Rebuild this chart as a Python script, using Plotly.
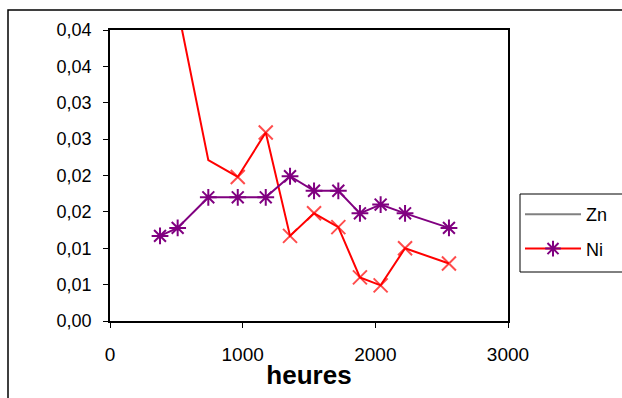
import plotly.graph_objects as go

# ---- data ----
purple_hours = [377, 510, 741, 963, 1174, 1357, 1538, 1721, 1884, 2040, 2224, 2555]
purple_y = [0.0117, 0.0128, 0.0170, 0.0170, 0.0170, 0.0199, 0.0179, 0.0179, 0.0148, 0.0160, 0.0148, 0.0128]
red_hours = [510, 741, 963, 1174, 1357, 1538, 1721, 1884, 2040, 2224, 2555]
red_y = [0.0430, 0.0221, 0.0198, 0.0259, 0.0117, 0.0148, 0.0129, 0.0060, 0.0049, 0.0100, 0.0079]
y_tickvals = [0, 0.005, 0.01, 0.015, 0.02, 0.025, 0.03, 0.035, 0.04]
y_ticktext = ["0,00", "0,01", "0,01", "0,02", "0,02", "0,03", "0,03", "0,04", "0,04"]
x_tickvals = [0, 1000, 2000, 3000]
legend_names = ["Zn", "Ni"]

FONT = "Liberation Sans, Arial, sans-serif"

fig = go.Figure()

# red series (no legend entry); first two points without visible marker
fig.add_trace(go.Scatter(
    x=red_hours, y=red_y, mode="lines+markers", showlegend=False,
    line=dict(color="#FF0000", width=2),
    marker=dict(symbol="x-thin-open", size=[0, 0] + [14] * (len(red_hours) - 2),
                color="#FF0000", line=dict(color="#FF0000", width=2)),
))

# purple series
fig.add_trace(go.Scatter(
    x=purple_hours, y=purple_y, mode="lines+markers", showlegend=False,
    line=dict(color="#800080", width=2),
    marker=dict(symbol="asterisk-open", size=14,
                color="#800080", line=dict(color="#800080", width=2)),
))

# legend entries
fig.add_trace(go.Scatter(
    x=[None], y=[None], mode="lines", name=legend_names[0], legendgroup="a",
    line=dict(color="#808080", width=2),
))
fig.add_trace(go.Scatter(
    x=[None], y=[None], mode="lines+markers", name=legend_names[1], legendgroup="b",
    line=dict(color="#FF0000", width=2),
    marker=dict(symbol="asterisk-open", size=13, color="#800080",
                line=dict(color="#800080", width=2)),
))

L, R, T, B = 110, 508, 30, 321
W, H = 622, 398

def px_x(p):
    return (p - L) / (R - L)

def px_y(p):
    return (B - p) / (B - T)

fig.update_layout(
    width=W, height=H,
    margin=dict(l=L, r=W - R, t=T, b=H - B, pad=0, autoexpand=False),
    paper_bgcolor="white", plot_bgcolor="white",
    font=dict(family=FONT, color="black", size=18),
    xaxis=dict(
        range=[0, 3000], tickvals=x_tickvals, ticks="outside", ticklen=5,
        tickwidth=1, tickcolor="black", showgrid=False, zeroline=False,
        showline=True, linecolor="black", linewidth=1.5, mirror=True,
        tickfont=dict(size=19, family=FONT), ticklabelstandoff=10,
        title=dict(text="<b>heures</b>", font=dict(size=26, family=FONT), standoff=2),
    ),
    yaxis=dict(
        range=[0, 0.04], tickvals=y_tickvals, ticktext=y_ticktext,
        ticks="outside", ticklen=5, tickwidth=1, tickcolor="black",
        showgrid=False, zeroline=False,
        showline=True, linecolor="black", linewidth=1.5, mirror=True,
        tickfont=dict(size=18, family=FONT), ticklabelstandoff=8,
    ),
    legend=dict(
        x=px_x(520), y=px_y(196), xanchor="left", yanchor="top",
        bgcolor="rgba(0,0,0,0)", borderwidth=0,
        font=dict(size=18, family=FONT), traceorder="grouped", tracegroupgap=8,
        itemwidth=56,
    ),
    shapes=[
        dict(type="rect", xref="paper", yref="paper",
             x0=px_x(8), x1=3, y0=-3, y1=px_y(10),
             line=dict(color="black", width=1.5), layer="below"),
        dict(type="rect", xref="paper", yref="paper",
             x0=px_x(520), x1=px_x(640), y0=px_y(272), y1=px_y(194),
             line=dict(color="black", width=1), fillcolor="white", layer="below"),
    ],
)

fig.write_html("out.html")
